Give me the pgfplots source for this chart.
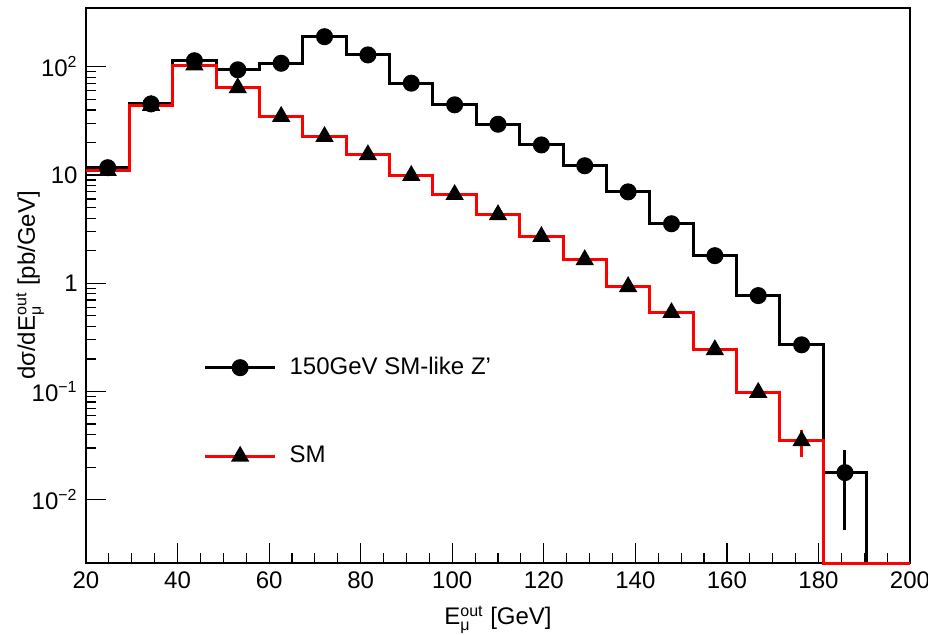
\documentclass[border=0pt]{standalone}
\usepackage{fontspec}
\setmainfont{Liberation Sans}
\usepackage{amsmath}
\usepackage{pgfplots}
\pgfplotsset{compat=1.18}

\begin{document}
\fontsize{12}{14}\selectfont
\begin{tikzpicture}
\begin{axis}[
  name=ax,
  scale only axis,
  width=412pt, height=277.5pt,
  ymode=log,
  xmin=20, xmax=200,
  ymin=0.0026, ymax=350,
  xtick={20,40,...,200},
  minor x tick num=3,
  ytick={0.01,0.1,1,10,100},
  yticklabels={10\textsuperscript{−2},10\textsuperscript{−1},1,10,10\textsuperscript{2}},
  tick pos=left,
  tick align=inside,
  major tick length=10pt,
  minor tick length=5pt,
  axis line style={line width=0.7pt},
  tick style={black, line width=0.6pt},
  x tick label style={/pgf/number format/assume math mode=true},
  xlabel={E$^{\text{out}}_{\text{μ}}$ [GeV]},
  ylabel={dσ/dE$^{\text{out}}_{\text{μ}}$ [pb/GeV]},
  xlabel style={yshift=-0.5pt},
  ylabel style={at={(rel axis cs:-0.068,0.5)}, anchor=center},
  clip=false,
  legend image code/.code={\draw[mark repeat=2,mark phase=2,#1] plot coordinates {(0pt,0pt)(17.5pt,0pt)(35pt,0pt)};},
  legend style={draw=none, fill=none, at={(rel axis cs:0.135,0.386)}, anchor=north west,
    row sep=30pt, /tikz/every odd column/.append style={column sep=4.5pt}},
  legend cell align=left,
]
% Z' (150 GeV SM-like) histogram, bin left edges
\addplot[black, line width=1.5pt, const plot mark left, forget plot] coordinates {
  (20,11.7)(29.474,45.5)(38.947,114)(48.421,94)(57.895,108)(67.368,190)
  (76.842,129)(86.316,70.7)(95.789,44.6)(105.263,29.5)(114.737,19)(124.211,12.2)
  (133.684,7.0)(143.158,3.55)(152.632,1.8)(162.105,0.77)(171.579,0.27)
  (181.053,0.0178)(190.526,0.0026)(200,0.0026)
};
% SM histogram
\addplot[red, line width=1.5pt, const plot mark left, forget plot] coordinates {
  (20,11)(29.474,44)(38.947,104)(48.421,64)(57.895,34.8)(67.368,22.7)
  (76.842,15.4)(86.316,9.9)(95.789,6.6)(105.263,4.3)(114.737,2.7)(124.211,1.65)
  (133.684,0.93)(143.158,0.535)(152.632,0.243)(162.105,0.098)(171.579,0.035)
  (181.053,0.0026)(190.526,0.0026)(200,0.0026)
};
% markers at bin centres
\addplot[black, line width=1.5pt, only marks, mark=*, mark size=3.5pt, forget plot,
  error bars/.cd, y dir=both, y explicit, error mark=none,
  error bar style={line width=1.5pt}] coordinates {
  (24.737,11.7)(34.211,45.5)(43.684,114)(53.158,94)(62.632,108)(72.105,190)
  (81.579,129)(91.053,70.7)(100.526,44.6)(110.0,29.5)(119.474,19)(128.947,12.2)
  (138.421,7.0)(147.895,3.55)(157.368,1.8)(166.842,0.77)(176.316,0.27)
  (185.789,0.0178) += (0,0.0108) -= (0,0.0125)
};
\addplot[red, line width=1.5pt, only marks, mark=triangle*, mark size=3.8pt,
  mark options={fill=black, draw=black}, forget plot,
  error bars/.cd, y dir=both, y explicit, error mark=none,
  error bar style={line width=1.5pt, red}] coordinates {
  (24.737,11)(34.211,44)(43.684,104)(53.158,64)(62.632,34.8)(72.105,22.7)
  (81.579,15.4)(91.053,9.9)(100.526,6.6)(110.0,4.3)(119.474,2.7)(128.947,1.65)
  (138.421,0.93)(147.895,0.535)(157.368,0.243)(166.842,0.098)
  (176.316,0.035) += (0,0.0094) -= (0,0.010)
};
\addlegendimage{black, line width=1.5pt, mark=*, mark size=3.5pt}
\addlegendentry{150GeV SM-like Z'}
\addlegendimage{red, line width=1.5pt, mark=triangle*, mark size=3.8pt, mark options={fill=black, draw=black}}
\addlegendentry{SM}
\end{axis}
\pgfresetboundingbox
\path[use as bounding box] ([shift={(-43pt,-35.5pt)}]ax.south west) rectangle ([shift={(9pt,4pt)}]ax.north east);
\end{tikzpicture}
\end{document}
